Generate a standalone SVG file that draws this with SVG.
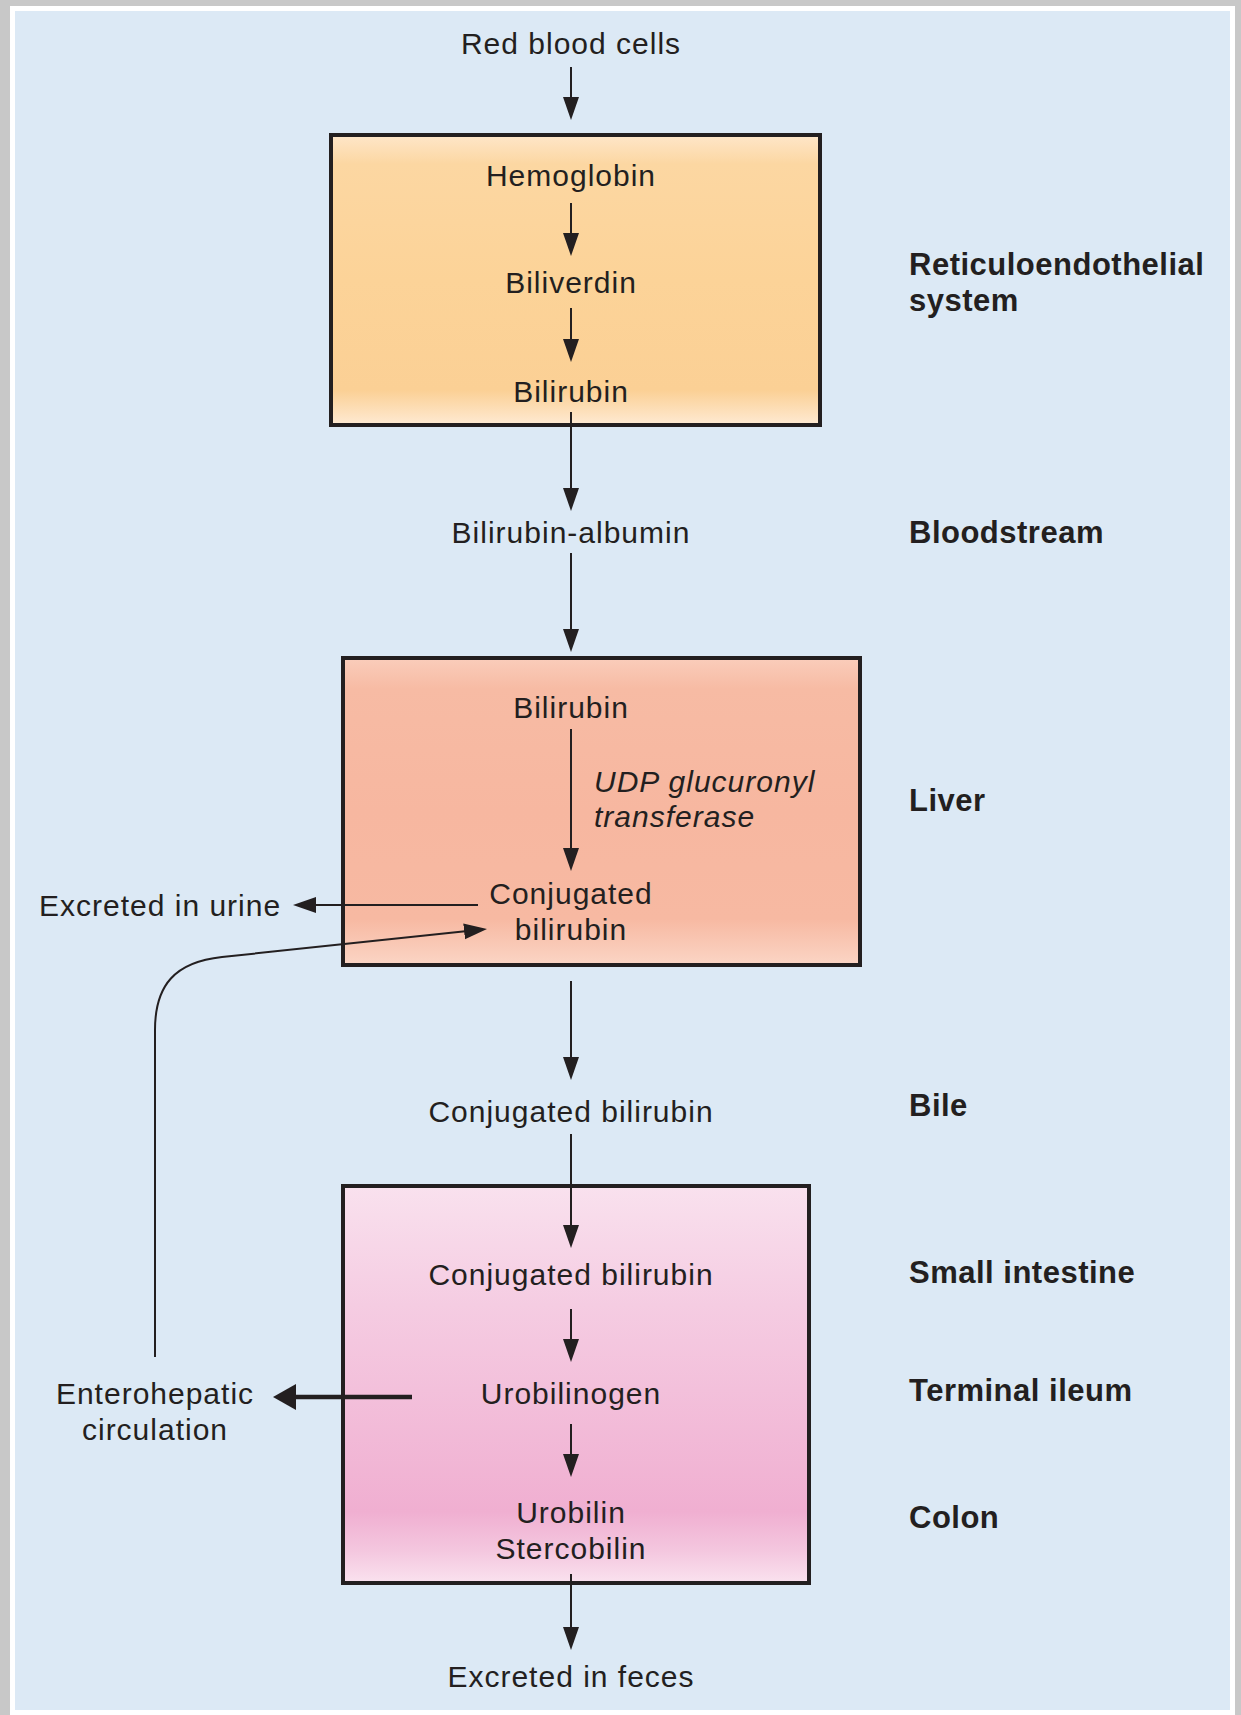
<svg xmlns="http://www.w3.org/2000/svg" width="1241" height="1715" viewBox="0 0 1241 1715">
<defs>
<style>
.t{font-family:"Liberation Sans",Arial,sans-serif;font-size:30px;letter-spacing:1px;fill:#231F20}
.m{text-anchor:middle}
.i{font-style:italic}
.b{font-family:"Liberation Sans",Arial,sans-serif;font-size:31px;font-weight:bold;letter-spacing:0.5px;fill:#231F20}
.box{stroke:#231F20;stroke-width:4}
.c{fill:none;stroke:#231F20;stroke-width:2}
.thick{fill:none;stroke:#231F20;stroke-width:4.5}
</style>
<marker id="ah" markerUnits="userSpaceOnUse" markerWidth="24" markerHeight="17" refX="13" refY="8" orient="auto">
<path d="M0,0 L23,8 L0,16 Z" fill="#231F20"/>
</marker>
<marker id="ahb" markerUnits="userSpaceOnUse" markerWidth="24" markerHeight="27" refX="13" refY="13" orient="auto">
<path d="M0,0 L23,13 L0,26 Z" fill="#231F20"/>
</marker>
<linearGradient id="g1" x1="0" y1="0" x2="0" y2="1">
<stop offset="0" stop-color="#FEE6C9"/>
<stop offset="0.1" stop-color="#FCD7A2"/>
<stop offset="0.5" stop-color="#FCD398"/>
<stop offset="0.88" stop-color="#FBD095"/>
<stop offset="1" stop-color="#FEEAD3"/>
</linearGradient>
<linearGradient id="g2" x1="0" y1="0" x2="0" y2="1">
<stop offset="0" stop-color="#FACDBB"/>
<stop offset="0.1" stop-color="#F7BBA4"/>
<stop offset="0.5" stop-color="#F7B7A0"/>
<stop offset="0.85" stop-color="#F7B9A2"/>
<stop offset="1" stop-color="#FBD5C5"/>
</linearGradient>
<linearGradient id="g3" x1="0" y1="0" x2="0" y2="1">
<stop offset="0" stop-color="#F9E1EE"/>
<stop offset="0.3" stop-color="#F5CCE2"/>
<stop offset="0.82" stop-color="#F0AFD1"/>
<stop offset="0.92" stop-color="#F4C7DF"/>
<stop offset="1" stop-color="#FAE2EF"/>
</linearGradient>
</defs>
<rect x="0" y="0" width="1241" height="1715" fill="#C8C8C8"/>
<rect x="10" y="6" width="1225" height="1709" fill="#FFFFFF"/>
<rect x="15" y="11" width="1215" height="1699" fill="#DCE9F5"/>

<g id="node-rbc"><text class="t m" x="571" y="54">Red blood cells</text></g>

<g id="node-res">
<rect class="box" x="331" y="135" width="489" height="290" fill="url(#g1)"/>
<text class="t m" x="571" y="186">Hemoglobin</text>
<text class="t m" x="571" y="293">Biliverdin</text>
<text class="t m" x="571" y="402">Bilirubin</text>
</g>

<g id="node-albumin"><text class="t m" x="571" y="543">Bilirubin-albumin</text></g>

<g id="node-liver">
<rect class="box" x="343" y="658" width="517" height="307" fill="url(#g2)"/>
<text class="t m" x="571" y="718">Bilirubin</text>
<text class="t i" x="594" y="792">UDP glucuronyl</text>
<text class="t i" x="594" y="827">transferase</text>
<text class="t m" x="571" y="904">Conjugated</text>
<text class="t m" x="571" y="940">bilirubin</text>
</g>

<g id="node-urine"><text class="t" x="39" y="916">Excreted in urine</text></g>

<g id="node-bile"><text class="t m" x="571" y="1122">Conjugated bilirubin</text></g>

<g id="node-intestine">
<rect class="box" x="343" y="1186" width="466" height="397" fill="url(#g3)"/>
<text class="t m" x="571" y="1285">Conjugated bilirubin</text>
<text class="t m" x="571" y="1404">Urobilinogen</text>
<text class="t m" x="571" y="1523">Urobilin</text>
<text class="t m" x="571" y="1559">Stercobilin</text>
</g>

<g id="node-entero">
<text class="t m" x="155" y="1404">Enterohepatic</text>
<text class="t m" x="155" y="1440">circulation</text>
</g>

<g id="node-feces"><text class="t m" x="571" y="1687">Excreted in feces</text></g>

<g id="labels">
<text class="b" x="909" y="275">Reticuloendothelial</text>
<text class="b" x="909" y="311">system</text>
<text class="b" x="909" y="543">Bloodstream</text>
<text class="b" x="909" y="811">Liver</text>
<text class="b" x="909" y="1116">Bile</text>
<text class="b" x="909" y="1283">Small intestine</text>
<text class="b" x="909" y="1401">Terminal ileum</text>
<text class="b" x="909" y="1528">Colon</text>
</g>

<g id="connectors">
<path class="c" d="M571,67 V110" marker-end="url(#ah)"/>
<path class="c" d="M571,203 V246" marker-end="url(#ah)"/>
<path class="c" d="M571,308 V352" marker-end="url(#ah)"/>
<path class="c" d="M571,412 V501" marker-end="url(#ah)"/>
<path class="c" d="M571,553 V642" marker-end="url(#ah)"/>
<path class="c" d="M571,729 V861" marker-end="url(#ah)"/>
<path class="c" d="M571,981 V1070" marker-end="url(#ah)"/>
<path class="c" d="M571,1134 V1238" marker-end="url(#ah)"/>
<path class="c" d="M571,1309 V1352" marker-end="url(#ah)"/>
<path class="c" d="M571,1424 V1467" marker-end="url(#ah)"/>
<path class="c" d="M571,1574 V1640" marker-end="url(#ah)"/>
<path class="c" d="M478,905 H303" marker-end="url(#ah)"/>
<path class="c" d="M155,1357 V1030 C155,985 175,962 222,957 L477.06,930.05" marker-end="url(#ah)"/>
<path class="thick" d="M412,1397 H283" marker-end="url(#ahb)"/>
</g>
</svg>
